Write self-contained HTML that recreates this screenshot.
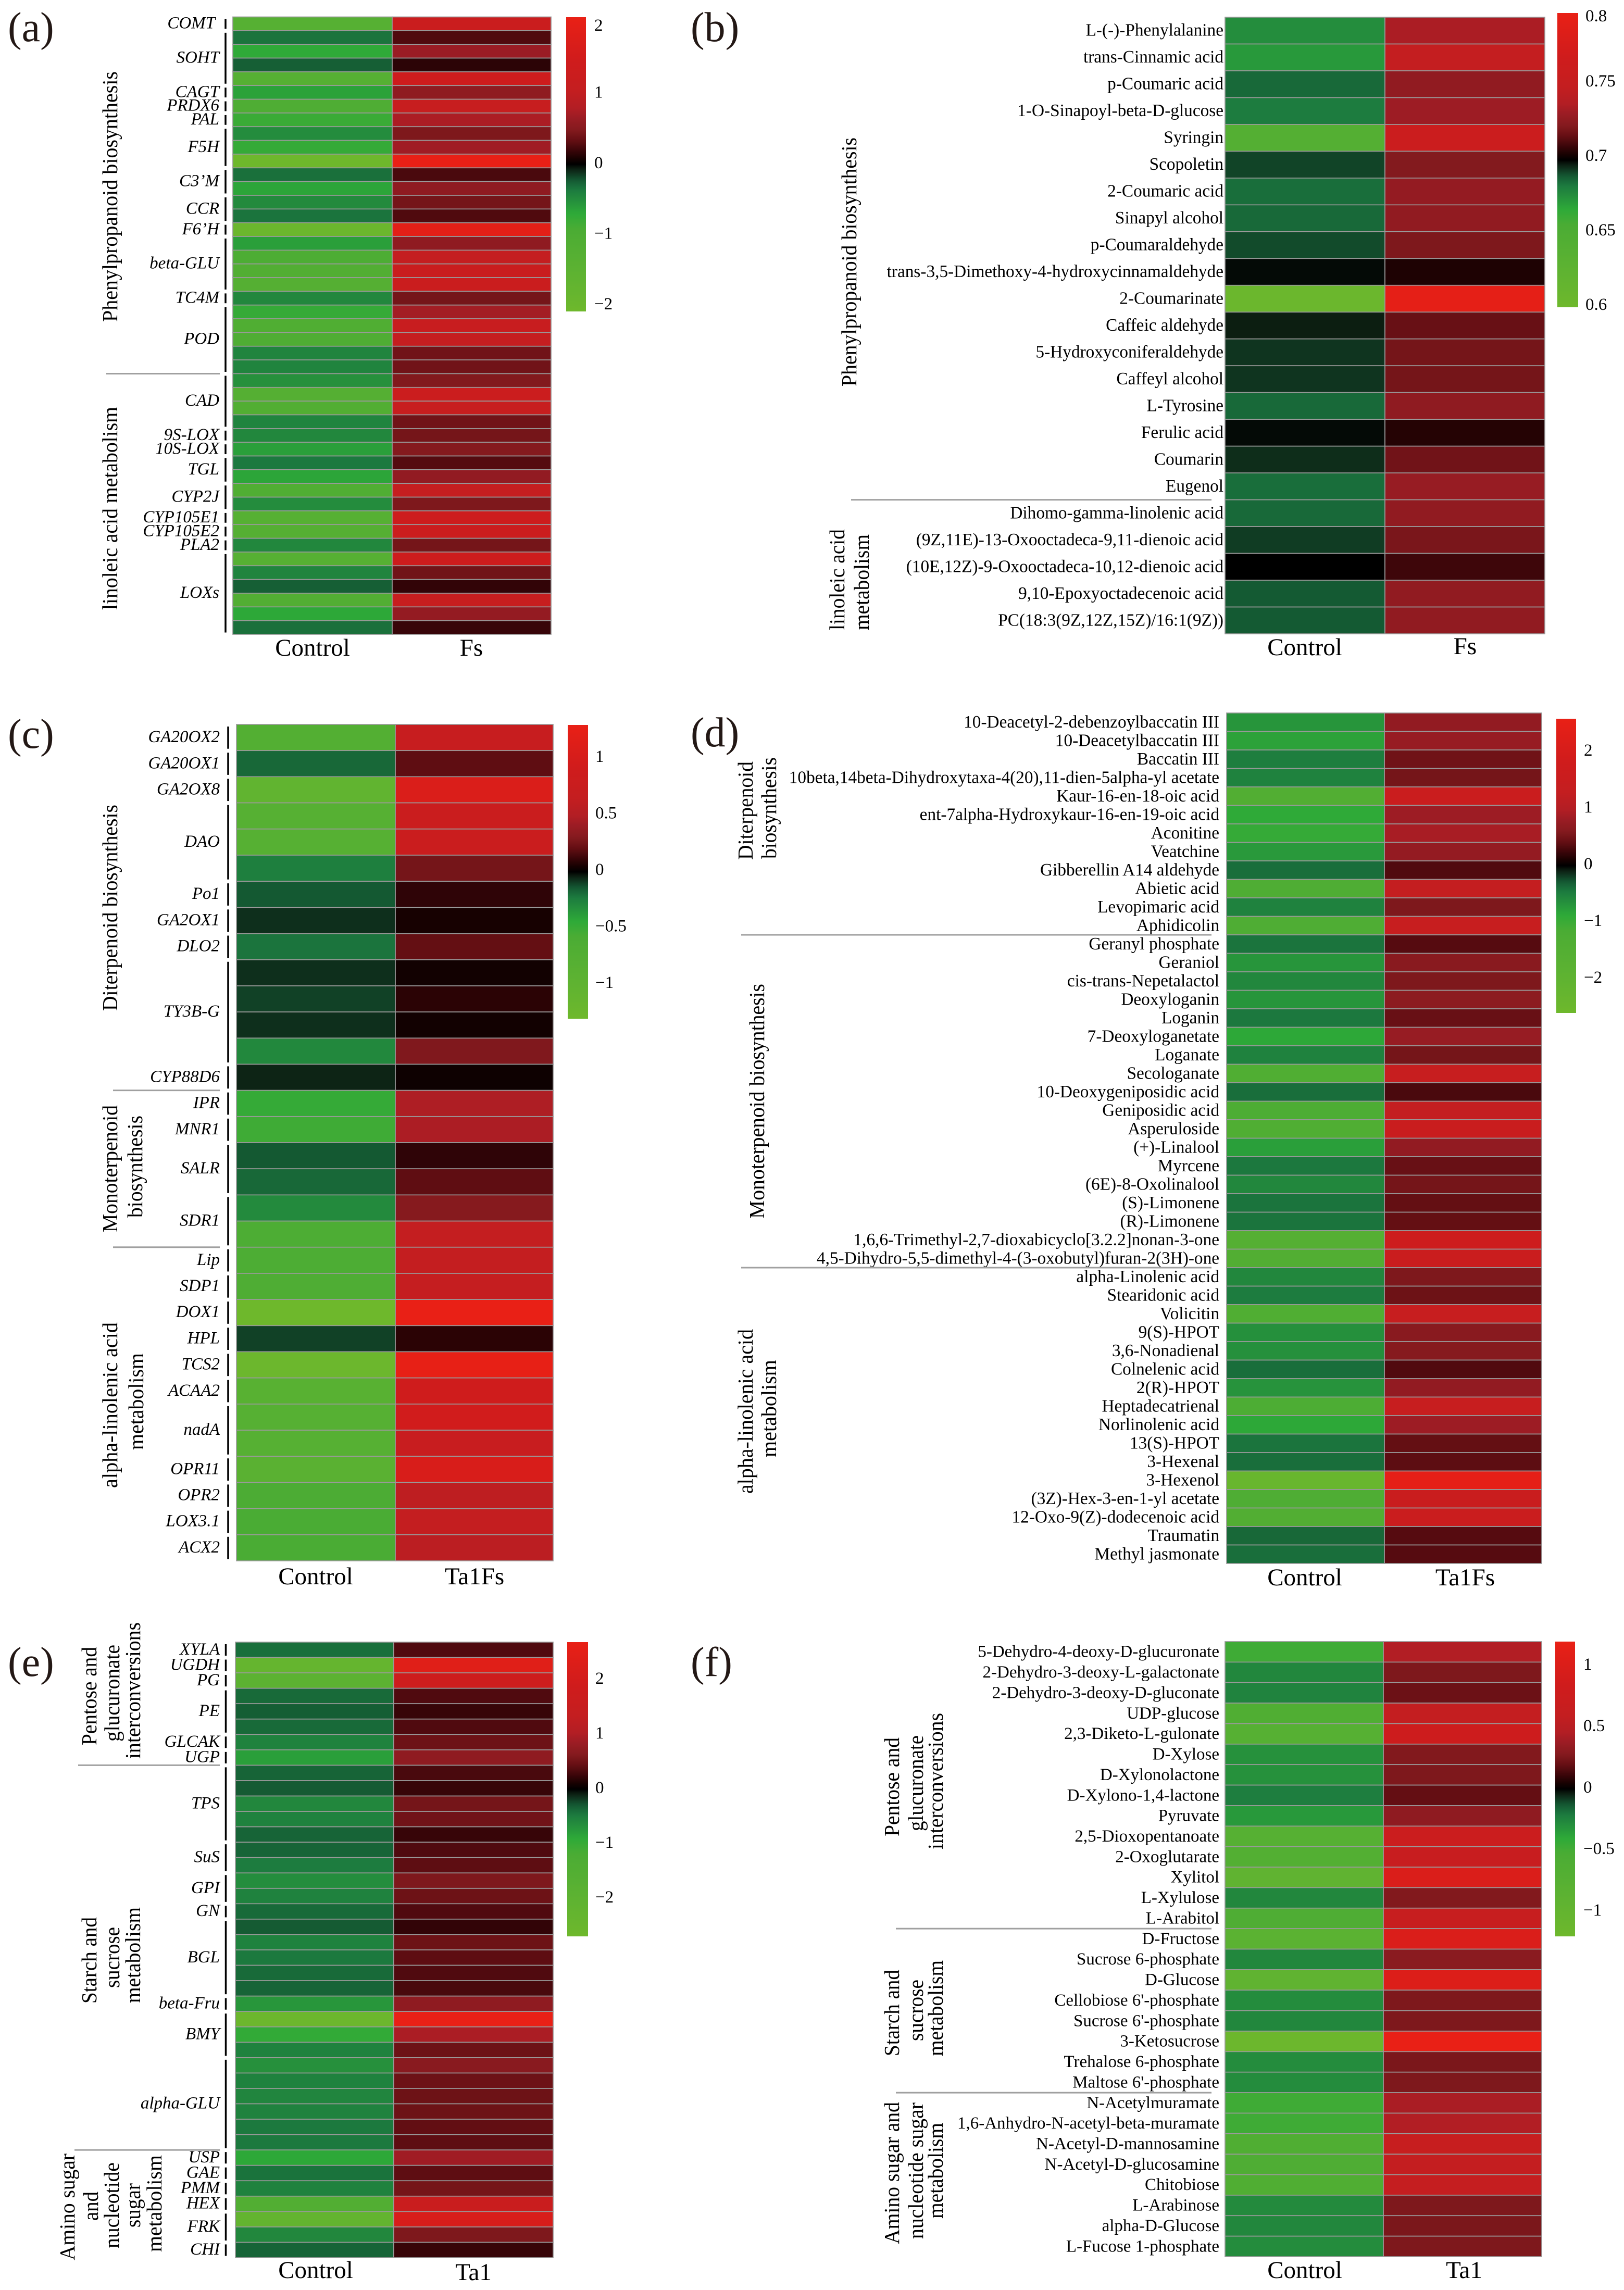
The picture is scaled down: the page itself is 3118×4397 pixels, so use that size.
<!DOCTYPE html>
<html lang="en">
<head>
<meta charset="utf-8">
<title>Metabolic pathway heatmaps</title>
<style>
html,body{margin:0;padding:0;background:#fff;}
svg{display:block;}
text{font-family:"Liberation Serif",serif;fill:#000;}
</style>
</head>
<body>
<svg id="figure" xmlns="http://www.w3.org/2000/svg" width="3118" height="4397" viewBox="0 0 3118 4397">
<defs>
<linearGradient id="cmap" x1="0" y1="0" x2="0" y2="1"></linearGradient>
</defs>
<rect x="0" y="0" width="3118" height="4397" fill="#ffffff"></rect>
</svg>
<script>
// ---------- Panel (a) data ----------
const panelAControl = [-1.30,-0.34,-0.71,-0.25,-1.30,-0.65,-1.05,-0.80,-0.50,-0.76,-2.10,-0.32,-0.67,-0.48,-0.34,-2.00,-0.63,-1.01,-1.16,-1.26,-0.46,-0.76,-1.09,-1.05,-0.44,-0.44,-0.53,-1.26,-1.16,-0.44,-0.46,-0.63,-0.36,-0.67,-1.09,-0.50,-1.30,-1.26,-0.46,-1.30,-0.44,-0.25,-1.16,-0.69,-0.32];
const panelATreated = [1.26,0.27,0.65,0.15,1.43,0.57,1.16,0.76,0.46,0.69,2.10,0.25,0.57,0.42,0.27,1.95,0.57,1.05,1.22,1.26,0.42,0.71,1.20,1.09,0.40,0.40,0.48,1.30,1.16,0.40,0.42,0.50,0.29,0.59,1.09,0.46,1.37,1.30,0.42,1.39,0.40,0.17,1.16,0.61,0.19];
const panelAGenes = [["COMT",1],["SOHT",4],["CAGT",1],["PRDX6",1],["PAL",1],["F5H",3],["C3’M",2],["CCR",2],["F6’H",1],["beta-GLU",4],["TC4M",1],["POD",5],["CAD",4],["9S-LOX",1],["10S-LOX",1],["TGL",2],["CYP2J",2],["CYP105E1",1],["CYP105E2",1],["PLA2",1],["LOXs",6]];
const panelATicks = [2,1,0,-1,-2];
const panelAGroups = ["Control","Fs"];

// ---------- Panel (b) data ----------
const panelBControl = [0.676,0.672,0.686,0.682,0.642,0.692,0.685,0.686,0.691,0.699,0.605,0.697,0.694,0.694,0.686,0.699,0.695,0.685,0.686,0.693,0.700,0.689,0.689];
const panelBTreated = [0.736,0.750,0.728,0.732,0.762,0.723,0.729,0.728,0.722,0.705,0.795,0.717,0.720,0.720,0.727,0.706,0.719,0.730,0.728,0.721,0.710,0.728,0.728];
const panelBMetabolites = ["L-(-)-Phenylalanine","trans-Cinnamic acid","p-Coumaric acid","1-O-Sinapoyl-beta-D-glucose","Syringin","Scopoletin","2-Coumaric acid","Sinapyl alcohol","p-Coumaraldehyde","trans-3,5-Dimethoxy-4-hydroxycinnamaldehyde","2-Coumarinate","Caffeic aldehyde","5-Hydroxyconiferaldehyde","Caffeyl alcohol","L-Tyrosine","Ferulic acid","Coumarin","Eugenol","Dihomo-gamma-linolenic acid","(9Z,11E)-13-Oxooctadeca-9,11-dienoic acid","(10E,12Z)-9-Oxooctadeca-10,12-dienoic acid","9,10-Epoxyoctadecenoic acid","PC(18:3(9Z,12Z,15Z)/16:1(9Z))"];
const panelBTicks = [0.8,0.75,0.7,0.65,0.6];
const panelBGroups = ["Control","Fs"];

// ---------- Panel (c) data ----------
const panelCControl = [-0.75,-0.18,-1.04,-0.81,-0.81,-0.25,-0.14,-0.07,-0.21,-0.07,-0.10,-0.07,-0.29,-0.05,-0.47,-0.52,-0.14,-0.18,-0.30,-0.62,-0.62,-0.65,-1.30,-0.10,-1.26,-0.85,-0.81,-0.81,-0.88,-0.60,-0.57,-0.57];
const panelCTreated = [0.72,0.20,1.07,0.78,0.78,0.26,0.10,0.05,0.21,0.04,0.09,0.04,0.29,0.03,0.48,0.47,0.10,0.20,0.31,0.65,0.65,0.68,1.30,0.09,1.27,0.91,0.94,0.75,1.04,0.60,0.65,0.57];
const panelCGenes = [["GA20OX2",1],["GA20OX1",1],["GA2OX8",1],["DAO",3],["Po1",1],["GA2OX1",1],["DLO2",1],["TY3B-G",4],["CYP88D6",1],["IPR",1],["MNR1",1],["SALR",2],["SDR1",2],["Lip",1],["SDP1",1],["DOX1",1],["HPL",1],["TCS2",1],["ACAA2",1],["nadA",2],["OPR11",1],["OPR2",1],["LOX3.1",1],["ACX2",1]];
const panelCTicks = [1,0.5,0,-0.5,-1];
const panelCGroups = ["Control","Ta1Fs"];

// ---------- Panel (d) data ----------
const panelDControl = [-0.70,-0.81,-0.49,-0.52,-1.43,-0.88,-0.94,-0.73,-0.39,-1.30,-0.52,-1.30,-0.42,-0.70,-0.57,-0.70,-0.44,-0.86,-0.52,-1.38,-0.39,-1.25,-1.35,-0.78,-0.44,-0.57,-0.42,-0.42,-1.56,-1.43,-0.57,-0.47,-1.35,-0.65,-0.65,-0.39,-0.68,-1.25,-0.86,-0.42,-0.39,-2.34,-1.30,-1.43,-0.36,-0.39];
const panelDTreated = [0.73,0.78,0.49,0.52,1.56,0.83,0.91,0.75,0.34,1.30,0.57,1.43,0.36,0.65,0.57,0.68,0.44,0.78,0.52,1.43,0.31,1.30,1.51,0.73,0.44,0.52,0.42,0.42,1.69,1.56,0.57,0.47,1.43,0.65,0.62,0.34,0.73,1.43,0.83,0.42,0.39,2.47,1.51,1.56,0.36,0.36];
const panelDMetabolites = ["10-Deacetyl-2-debenzoylbaccatin III","10-Deacetylbaccatin III","Baccatin III","10beta,14beta-Dihydroxytaxa-4(20),11-dien-5alpha-yl acetate","Kaur-16-en-18-oic acid","ent-7alpha-Hydroxykaur-16-en-19-oic acid","Aconitine","Veatchine","Gibberellin A14 aldehyde","Abietic acid","Levopimaric acid","Aphidicolin","Geranyl phosphate","Geraniol","cis-trans-Nepetalactol","Deoxyloganin","Loganin","7-Deoxyloganetate","Loganate","Secologanate","10-Deoxygeniposidic acid","Geniposidic acid","Asperuloside","(+)-Linalool","Myrcene","(6E)-8-Oxolinalool","(S)-Limonene","(R)-Limonene","1,6,6-Trimethyl-2,7-dioxabicyclo[3.2.2]nonan-3-one","4,5-Dihydro-5,5-dimethyl-4-(3-oxobutyl)furan-2(3H)-one","alpha-Linolenic acid","Stearidonic acid","Volicitin","9(S)-HPOT","3,6-Nonadienal","Colnelenic acid","2(R)-HPOT","Heptadecatrienal","Norlinolenic acid","13(S)-HPOT","3-Hexenal","3-Hexenol","(3Z)-Hex-3-en-1-yl acetate","12-Oxo-9(Z)-dodecenoic acid","Traumatin","Methyl jasmonate"];
const panelDTicks = [2,1,0,-1,-2];
const panelDGroups = ["Control","Ta1Fs"];

// ---------- Panel (e) data ----------
const panelEControl = [-0.41,-2.30,-1.94,-0.38,-0.32,-0.38,-0.54,-0.81,-0.35,-0.30,-0.59,-0.54,-0.35,-0.35,-0.49,-0.65,-0.54,-0.38,-0.30,-0.54,-0.46,-0.38,-0.35,-0.73,-2.62,-0.95,-0.54,-0.68,-0.54,-0.57,-0.54,-0.46,-0.46,-0.89,-0.43,-0.54,-1.49,-2.21,-0.59,-0.35];
const panelETreated = [0.35,2.43,1.76,0.35,0.24,0.35,0.49,0.73,0.32,0.24,0.54,0.51,0.24,0.35,0.41,0.59,0.49,0.35,0.22,0.49,0.41,0.35,0.32,0.73,2.70,0.97,0.49,0.68,0.49,0.49,0.49,0.43,0.41,0.89,0.41,0.54,1.57,2.16,0.59,0.24];
const panelEGenes = [["XYLA",1],["UGDH",1],["PG",1],["PE",3],["GLCAK",1],["UGP",1],["TPS",5],["SuS",2],["GPI",2],["GN",1],["BGL",5],["beta-Fru",1],["BMY",3],["alpha-GLU",6],["USP",1],["GAE",1],["PMM",1],["HEX",1],["FRK",2],["CHI",1]];
const panelETicks = [2,1,0,-1,-2];
const panelEGroups = ["Control","Ta1"];

// ---------- Panel (f) data ----------
const panelFControl = [-0.47,-0.26,-0.24,-0.61,-0.73,-0.30,-0.30,-0.22,-0.33,-0.73,-0.67,-0.92,-0.26,-0.59,-0.83,-0.26,-0.92,-0.28,-0.26,-1.14,-0.28,-0.28,-0.47,-0.47,-0.61,-0.59,-0.61,-0.27,-0.26,-0.28];
const panelFTreated = [0.45,0.26,0.21,0.59,0.78,0.27,0.26,0.19,0.32,0.73,0.67,0.97,0.27,0.65,0.97,0.30,1.00,0.26,0.26,1.18,0.25,0.26,0.42,0.45,0.65,0.59,0.61,0.26,0.25,0.26];
const panelFMetabolites = ["5-Dehydro-4-deoxy-D-glucuronate","2-Dehydro-3-deoxy-L-galactonate","2-Dehydro-3-deoxy-D-gluconate","UDP-glucose","2,3-Diketo-L-gulonate","D-Xylose","D-Xylonolactone","D-Xylono-1,4-lactone","Pyruvate","2,5-Dioxopentanoate","2-Oxoglutarate","Xylitol","L-Xylulose","L-Arabitol","D-Fructose","Sucrose 6-phosphate","D-Glucose","Cellobiose 6'-phosphate","Sucrose 6'-phosphate","3-Ketosucrose","Trehalose 6-phosphate","Maltose 6'-phosphate","N-Acetylmuramate","1,6-Anhydro-N-acetyl-beta-muramate","N-Acetyl-D-mannosamine","N-Acetyl-D-glucosamine","Chitobiose","L-Arabinose","alpha-D-Glucose","L-Fucose 1-phosphate"];
const panelFTicks = [1,0.5,0,-0.5,-1];
const panelFGroups = ["Control","Ta1"];

// ---------- Colour scale: t is distance from the centre as a fraction of the range ----------
const greenStops = [[0,0,0,0],[0.03,12,30,17],[0.06,15,52,31],[0.106,20,88,50],[0.173,28,122,63],[0.255,38,145,60],[0.336,46,170,56],[0.444,75,172,52],[0.715,92,178,50],[1,110,184,44]];
const redStops = [[0,0,0,0],[0.04,24,1,1],[0.1,62,6,10],[0.165,102,15,20],[0.233,132,26,30],[0.314,155,28,36],[0.38,178,30,36],[0.5,196,30,32],[0.71,208,28,28],[1,233,32,22]];

function lerpStops(stops, t) {
  const c = Math.max(0, Math.min(1, t));
  for (let i = 1; i < stops.length; i++) {
    if (c <= stops[i][0]) {
      const a = stops[i - 1], b = stops[i];
      const f = (c - a[0]) / (b[0] - a[0]);
      return 'rgb(' + [1, 2, 3].map(k => Math.round(a[k] + (b[k] - a[k]) * f)).join(',') + ')';
    }
  }
  const l = stops[stops.length - 1];
  return 'rgb(' + l[1] + ',' + l[2] + ',' + l[3] + ')';
}
function colorFor(v, centre, range) {
  const d = (v - centre) / range;
  return d >= 0 ? lerpStops(redStops, d) : lerpStops(greenStops, -d);
}

const svg = document.getElementById('figure');
const NS = 'http://www.w3.org/2000/svg';
function mk(tag, attrs, parent) {
  const el = document.createElementNS(NS, tag);
  for (const k in attrs) el.setAttribute(k, attrs[k]);
  (parent || svg).appendChild(el);
  return el;
}

// Colour bar gradient
const grad = document.getElementById('cmap');
for (let i = 0; i <= 100; i++) {
  const p = i / 100;
  const t = 1 - 2 * p;
  mk('stop', {offset: p, 'stop-color': t >= 0 ? lerpStops(redStops, t) : lerpStops(greenStops, -t)}, grad);
}

function slug(s) {
  return String(s).toLowerCase().replace(/[^a-z0-9]+/g, '-').replace(/^-|-$/g, '');
}

function drawPanel(cfg) {
  const g = mk('g', {});
  
  

  const n = cfg.control.length;
  const rowH = (cfg.bottom - cfg.top) / n;
  const rowY = i => cfg.top + i * rowH;

  // panel letter
  const letter = mk('text', {x: cfg.letterX, y: cfg.letterY, 'font-size': 80, style: 'fill:#231815'}, g);
  letter.textContent = '(' + cfg.id + ')';
  
  

  // heat cells
  [[cfg.control, cfg.x0, cfg.x1, cfg.groups[0]], [cfg.treated, cfg.x1, cfg.x2, cfg.groups[1]]].forEach(col => {
    col[0].forEach((v, i) => {
      const cell = mk('rect', {x: col[1], y: rowY(i), width: col[2] - col[1], height: rowH, fill: colorFor(v, cfg.centre, cfg.range), stroke: '#9a9a9a', 'stroke-width': 1.7}, g);
      
      
    });
  });

  // group labels on x axis
  cfg.groups.forEach((name, j) => {
    const t = mk('text', {x: cfg.groupX[j], y: cfg.groupY[j], 'font-size': 47, 'text-anchor': 'middle'}, g);
    t.textContent = name;
    
    
  });

  // single-row metabolite labels
  if (cfg.metabolites) {
    cfg.metabolites.forEach((name, i) => {
      const t = mk('text', {x: cfg.labelRight, y: rowY(i) + rowH / 2 + 10, 'font-size': cfg.labelSize, 'text-anchor': 'end'}, g);
      t.textContent = name;
      
      
    });
  }

  // gene labels with bracket segments
  if (cfg.genes) {
    let start = 0;
    cfg.genes.forEach(pair => {
      const end = start + pair[1];
      const nudge = pair[0] === 'COMT' ? -8 : 0;
      const t = mk('text', {x: cfg.labelRight + nudge, y: (rowY(start) + rowY(end)) / 2 + 9, 'font-size': 33, 'font-style': 'italic', 'text-anchor': 'end'}, g);
      t.textContent = pair[0];
      
      
      const b = mk('line', {x1: cfg.bracketX, x2: cfg.bracketX, y1: rowY(start) + 4, y2: rowY(end) - 3.5, stroke: '#000', 'stroke-width': 3.5}, g);
      
      
      start = end;
    });
  }

  // dividers between pathways
  cfg.dividers.forEach(d => {
    const l = mk('line', {x1: d[0], x2: d[1], y1: rowY(d[2]), y2: rowY(d[2]), stroke: '#a0a0a0', 'stroke-width': 3}, g);
    
    
  });

  // rotated pathway titles: text, visual x centre, y top, y bottom
  cfg.titles.forEach(tt => {
    const bx = tt[1] + 14;
    const t = mk('text', {transform: 'translate(' + bx + ',' + tt[3] + ') rotate(-90)', x: 0, y: 0, 'font-size': 41, textLength: tt[3] - tt[2], lengthAdjust: 'spacingAndGlyphs'}, g);
    t.textContent = tt[0];
    
    
  });

  // colour bar
  const bar = mk('rect', {x: cfg.barX0, y: cfg.barY0, width: cfg.barX1 - cfg.barX0, height: cfg.barY1 - cfg.barY0, fill: 'url(#cmap)'}, g);
  
  
  const tickY = v => Math.max(cfg.tickMin, Math.min(cfg.tickMax, cfg.tickZero - (v - cfg.centre) * cfg.tickScale));
  cfg.ticks.forEach(v => {
    const t = mk('text', {x: cfg.tickX, y: tickY(v) + 11, 'font-size': 33}, g);
    t.textContent = String(v).replace('-', '\u2212');
    
    
  });
}

drawPanel({
  id: 'a', control: panelAControl, treated: panelATreated, genes: panelAGenes, ticks: panelATicks, groups: panelAGroups,
  centre: 0, range: 2.1, x0: 447, x1: 753, x2: 1058, top: 32.5, bottom: 1218,
  letterX: 15, letterY: 79, labelRight: 421, bracketX: 433,
  groupX: [600, 905], groupY: [1259, 1259],
  dividers: [[204, 422, 26]],
  titles: [["Phenylpropanoid biosynthesis", 211, 137, 618], ["linoleic acid metabolism", 211, 781, 1171]],
  barX0: 1087, barX1: 1125, barY0: 33, barY1: 598, tickX: 1141, tickZero: 312, tickScale: 135.5, tickMin: 48, tickMax: 589
});

drawPanel({
  id: 'b', control: panelBControl, treated: panelBTreated, metabolites: panelBMetabolites, labelSize: 33.3, ticks: panelBTicks, groups: panelBGroups,
  centre: 0.7, range: 0.1, x0: 2352, x1: 2659, x2: 2966, top: 33, bottom: 1217,
  letterX: 1326, letterY: 79, labelRight: 2349,
  groupX: [2505, 2813], groupY: [1258, 1256],
  dividers: [[1634, 2326, 18]],
  titles: [["Phenylpropanoid biosynthesis", 1630, 264, 742], ["linoleic acid", 1607, 1016, 1210], ["metabolism", 1654, 1026, 1210]],
  barX0: 2990, barX1: 3030, barY0: 25, barY1: 590, tickX: 3044, tickZero: 298, tickScale: 2860, tickMin: 30, tickMax: 587
});

drawPanel({
  id: 'c', control: panelCControl, treated: panelCTreated, genes: panelCGenes, ticks: panelCTicks, groups: panelCGroups,
  centre: 0, range: 1.3, x0: 454, x1: 759, x2: 1062, top: 1391, bottom: 2997,
  letterX: 15, letterY: 1436, labelRight: 422, bracketX: 438,
  groupX: [606, 911], groupY: [3042, 3042],
  dividers: [[217, 422, 14], [217, 422, 20]],
  titles: [["Diterpenoid biosynthesis", 211, 1545, 1941], ["Monoterpenoid", 211, 2122, 2366], ["biosynthesis", 259, 2142, 2338], ["alpha-linolenic acid", 211, 2539, 2857], ["metabolism", 261, 2598, 2784]],
  barX0: 1090, barX1: 1129, barY0: 1392, barY1: 1956, tickX: 1143, tickZero: 1669, tickScale: 217, tickMin: 1400, tickMax: 1950
});

drawPanel({
  id: 'd', control: panelDControl, treated: panelDTreated, metabolites: panelDMetabolites, labelSize: 33.3, ticks: panelDTicks, groups: panelDGroups,
  centre: 0, range: 2.6, x0: 2355, x1: 2658, x2: 2960, top: 1369, bottom: 3002,
  letterX: 1326, letterY: 1433, labelRight: 2341,
  groupX: [2505, 2813], groupY: [3044, 3044],
  dividers: [[1423, 2326, 12], [1423, 2326, 30]],
  titles: [["Diterpenoid", 1431, 1462, 1651], ["biosynthesis", 1476, 1454, 1649], ["Monoterpenoid biosynthesis", 1453, 1889, 2340], ["alpha-linolenic acid", 1431, 2552, 2868], ["metabolism", 1476, 2611, 2798]],
  barX0: 2988, barX1: 3026, barY0: 1380, barY1: 1945, tickX: 3041, tickZero: 1658, tickScale: 109, tickMin: 1390, tickMax: 1940
});

drawPanel({
  id: 'e', control: panelEControl, treated: panelETreated, genes: panelEGenes, ticks: panelETicks, groups: panelEGroups,
  centre: 0, range: 2.7, x0: 452, x1: 756, x2: 1062, top: 3153, bottom: 4335,
  letterX: 15, letterY: 3218, labelRight: 422, bracketX: 433.5,
  groupX: [606, 909], groupY: [4374, 4378],
  dividers: [[150, 422, 8], [143, 422, 33]],
  titles: [["Pentose and", 171, 3162, 3351], ["glucuronate", 215, 3158, 3344], ["interconversions", 255, 3115, 3377],
           ["Starch and", 171, 3681, 3847], ["sucrose", 215, 3700, 3817], ["metabolism", 255, 3662, 3846],
           ["Amino sugar", 129, 4135, 4340], ["and", 174, 4208, 4264], ["nucleotide", 214, 4152, 4317], ["sugar", 255, 4192, 4277], ["metabolism", 296, 4138, 4324]],
  barX0: 1089, barX1: 1129, barY0: 3153, barY1: 3718, tickX: 1143, tickZero: 3432, tickScale: 105, tickMin: 3160, tickMax: 3710
});

drawPanel({
  id: 'f', control: panelFControl, treated: panelFTreated, metabolites: panelFMetabolites, labelSize: 33, ticks: panelFTicks, groups: panelFGroups,
  centre: 0, range: 1.18, x0: 2352, x1: 2656, x2: 2960, top: 3152, bottom: 4333,
  letterX: 1326, letterY: 3218, labelRight: 2341,
  groupX: [2505, 2811], groupY: [4374, 4374],
  dividers: [[1720, 2326, 14], [1720, 2326, 22]],
  titles: [["Pentose and", 1712, 3336, 3526], ["glucuronate", 1758, 3332, 3516], ["interconversions", 1796, 3289, 3551],
           ["Starch and", 1712, 3782, 3948], ["sucrose", 1758, 3801, 3919], ["metabolism", 1796, 3764, 3948],
           ["Amino sugar and", 1712, 4036, 4309], ["nucleotide sugar", 1758, 4037, 4299], ["metabolism", 1796, 4076, 4260]],
  barX0: 2986, barX1: 3024, barY0: 3152, barY1: 3718, tickX: 3040, tickZero: 3431, tickScale: 236, tickMin: 3160, tickMax: 3710
});
</script>
</body>
</html>
